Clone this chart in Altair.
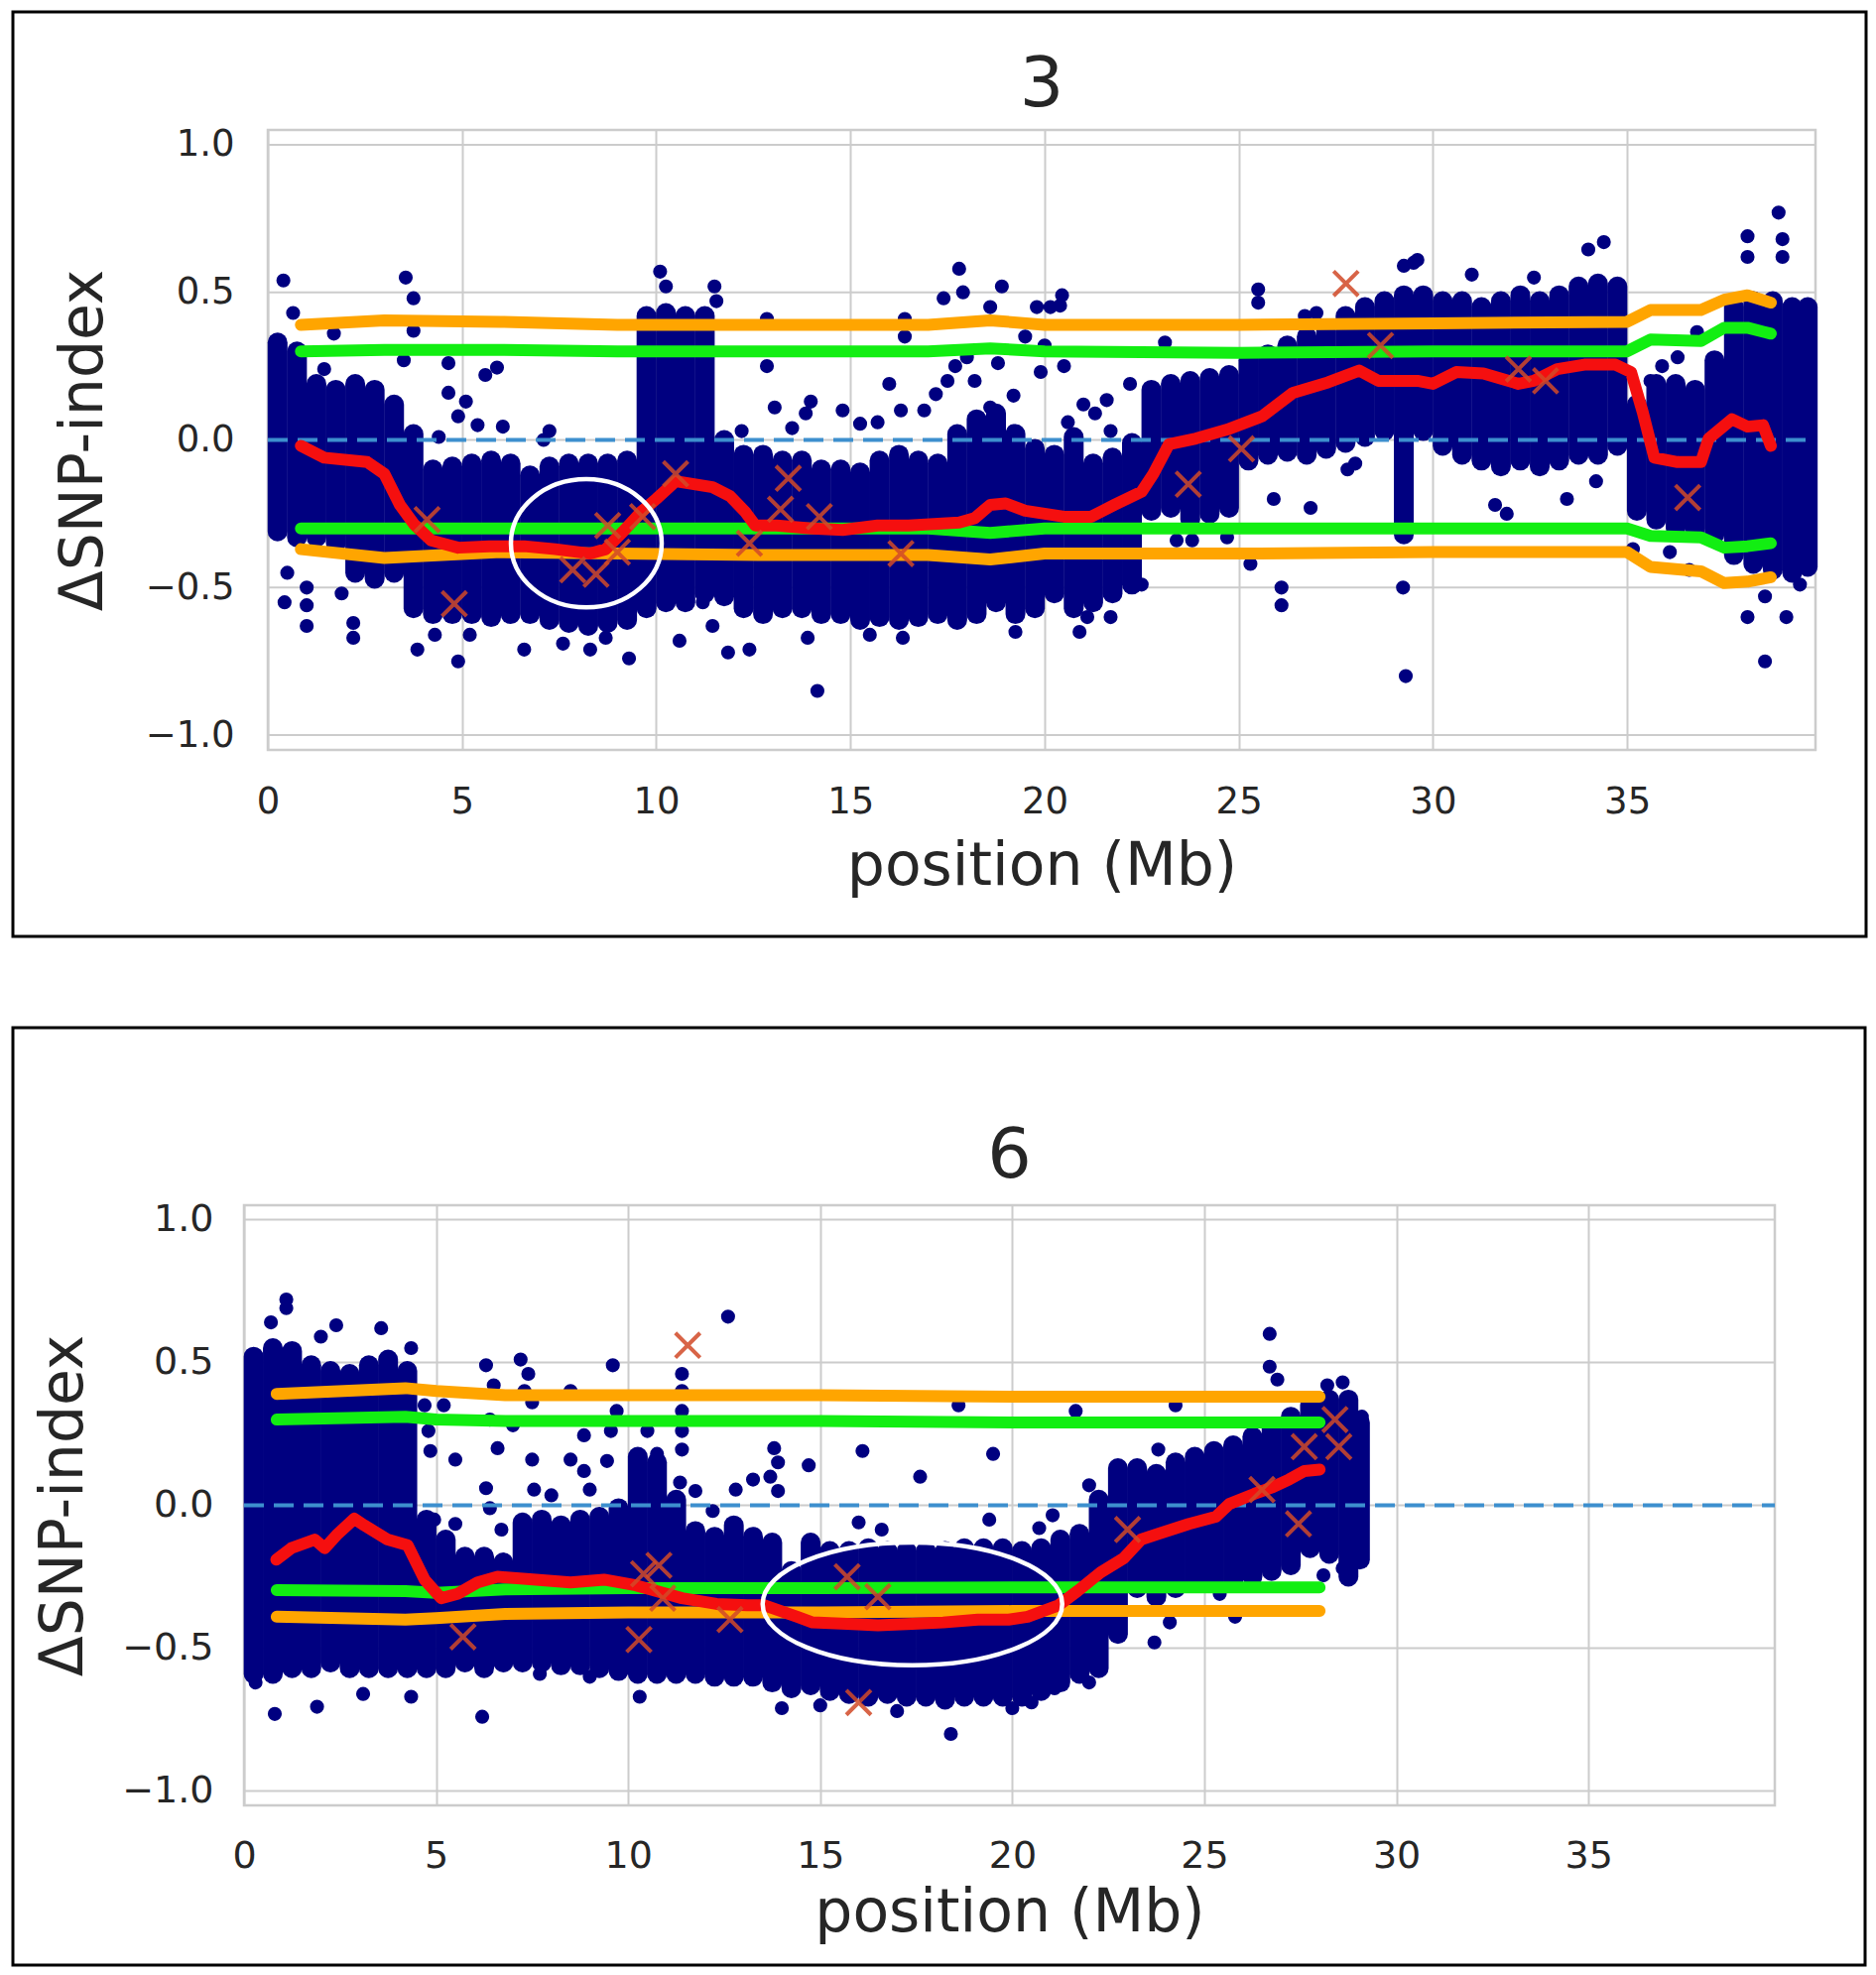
import altair as alt
import pandas as pd

# ---------------- shared axis ticks ----------------
x_ticks = [0, 5, 10, 15, 20, 25, 30, 35]
y_ticks = [-1.0, -0.5, 0.0, 0.5, 1.0]

# ---------------- panel "3" ----------------
p1_title = "3"
# dense SNP cloud (column centre, lower edge, upper edge)
p1_core_x = [0.25, 0.75, 1.25, 1.75, 2.25, 2.75, 3.25, 3.75, 4.25, 4.75, 5.25, 5.75, 6.25, 6.75, 7.25, 7.75,
             8.25, 8.75, 9.25, 9.75, 10.25, 10.75, 11.25, 11.75, 12.25, 12.75, 13.25, 13.75, 14.25, 14.75,
             15.25, 15.75, 16.25, 16.75, 17.25, 17.75, 18.25, 18.75, 19.25, 19.75, 20.25, 20.75, 21.25,
             21.75, 22.25, 22.75, 23.25, 23.75, 24.25, 24.75, 25.25, 25.75, 26.25, 26.75, 27.25, 27.75,
             28.25, 28.75, 29.25, 29.75, 30.25, 30.75, 31.25, 31.75, 32.25, 32.75, 33.25, 33.75, 34.25,
             34.75, 35.25, 35.75, 36.25, 36.75, 37.25, 37.75, 38.25, 38.75, 39.25, 39.65]
p1_core_lo = [-0.31, -0.33, -0.33, -0.35, -0.45, -0.47, -0.45, -0.57, -0.59, -0.59, -0.59, -0.60, -0.59, -0.59,
              -0.61, -0.62, -0.63, -0.62, -0.61, -0.57, -0.55, -0.55, -0.52, -0.53, -0.57, -0.59, -0.57, -0.57,
              -0.59, -0.59, -0.61, -0.60, -0.61, -0.60, -0.59, -0.61, -0.59, -0.55, -0.59, -0.57, -0.52, -0.57,
              -0.55, -0.52, -0.49, -0.24, -0.23, -0.27, -0.25, -0.23, -0.07, -0.05, -0.04, -0.05, -0.03, -0.01,
              0.01, 0.03, -0.32, 0.03, -0.02, -0.05, -0.07, -0.09, -0.07, -0.09, -0.07, -0.05, -0.05, -0.02,
              -0.24, -0.27, -0.30, -0.30, -0.32, -0.39, -0.42, -0.44, -0.45, -0.43]
p1_core_hi = [0.33, 0.30, 0.19, 0.17, 0.19, 0.17, 0.12, 0.02, -0.10, -0.09, -0.08, -0.07, -0.08, -0.12, -0.09,
              -0.08, -0.08, -0.08, -0.07, 0.42, 0.43, 0.42, 0.42, 0.00, -0.05, -0.05, -0.07, -0.07, -0.10, -0.10,
              -0.11, -0.07, -0.05, -0.07, -0.08, 0.02, 0.07, 0.09, 0.02, -0.03, -0.05, 0.01, -0.08, -0.06, -0.01,
              0.17, 0.19, 0.20, 0.21, 0.22, 0.27, 0.29, 0.32, 0.35, 0.37, 0.42, 0.45, 0.47, 0.49, 0.49, 0.47,
              0.47, 0.45, 0.47, 0.49, 0.47, 0.49, 0.52, 0.53, 0.52, 0.12, 0.19, 0.19, 0.17, 0.27, 0.45, 0.47,
              0.47, 0.45, 0.45]
# scattered SNPs outside the dense cloud
p1_pts_x = [0.4, 0.65, 1.7, 1.45, 3.55, 3.75, 3.75, 3.5, 4.65, 4.65, 5.1, 4.9, 5.4, 6.05, 5.6, 5.9, 7.25, 7.1, 4.4,
            0.5, 1.0, 0.43, 1.0, 1.0, 1.9, 2.2, 2.2, 3.85, 4.9, 6.6, 7.6, 8.3, 9.3, 8.7, 5.2, 4.3,
            10.1, 10.25, 11.5, 11.55, 12.85, 12.85, 13.05, 13.98, 13.85, 14.8, 15.25, 15.7, 16.3, 16.0, 16.4,
            16.4, 16.9, 17.2, 17.8, 17.4, 17.9, 18.9, 18.6, 19.8, 19.2, 18.6, 19.2, 19.9, 17.7, 17.5, 18.2,
            18.0, 18.8, 19.5, 12.2, 13.5,
            11.2, 11.45, 11.85, 12.4, 10.6, 14.15, 13.9, 16.35, 19.25, 15.5,
            20.15, 20.4, 20.45, 20.0, 20.5, 21.0, 21.3, 21.6, 20.6, 21.7, 23.1, 22.2, 25.5, 25.5, 25.3, 26.1,
            26.1, 26.85, 25.9, 29.23, 29.3, 29.5, 29.25, 21.1, 21.7, 22.5, 23.4, 23.8, 24.7, 27.8, 28.0, 20.9,
            26.7, 27.0,
            34.4, 34.0, 32.6, 31.0, 31.6, 31.9, 33.45, 34.2, 35.15, 36.1, 36.6, 36.8, 38.9, 38.1, 39.0, 38.1,
            39.0, 38.2, 38.55, 38.1, 39.1, 38.55, 39.45, 29.6, 35.9, 37.3, 36.3, 35.6]
p1_pts_y = [0.54, 0.43, 0.36, 0.24, 0.55, 0.48, 0.37, 0.27, 0.26, 0.16, 0.13, 0.08, 0.05, 0.045, 0.22, 0.245,
            0.03, 0.0, 0.01,
            -0.45, -0.50, -0.55, -0.56, -0.63, -0.52, -0.62, -0.67, -0.71, -0.75, -0.71, -0.69, -0.71, -0.74,
            -0.67, -0.66, -0.66,
            0.57, 0.52, 0.52, 0.47, 0.41, 0.25, 0.11, 0.13, 0.09, 0.10, 0.055, 0.06, 0.10, 0.19, 0.35, 0.41,
            0.10, 0.155, 0.58, 0.48, 0.50, 0.52, 0.45, 0.45, 0.15, 0.11, 0.03, 0.23, 0.25, 0.20, 0.20, 0.28,
            0.26, 0.35, 0.03, 0.04,
            -0.55, -0.63, -0.72, -0.71, -0.68, -0.85, -0.67, -0.67, -0.65, -0.66,
            0.45, 0.455, 0.49, 0.32, 0.25, 0.12, 0.09, 0.135, 0.06, 0.03, 0.33, 0.19, 0.51, 0.465, -0.42, -0.50,
            -0.56, -0.23, -0.20, -0.50, -0.80, 0.60, 0.59, -0.60, -0.60, -0.49, -0.34, -0.34, -0.33, -0.10,
            -0.08, -0.65, 0.42, 0.43,
            0.67, 0.645, 0.55, 0.56, -0.22, -0.25, -0.20, -0.14, -0.37, -0.38, -0.44, 0.365, 0.77, 0.69, 0.68,
            0.62, 0.62, -0.42, -0.53, -0.60, -0.60, -0.75, -0.49, 0.61, 0.25, 0.20, 0.28, 0.20]
# confidence thresholds
p1_thr_x = [0.85, 3.0, 6.0, 9.0, 13.0, 17.0, 18.6, 20.0, 25.0, 30.0, 35.0, 35.6, 36.9, 37.5, 38.1, 38.7]
p1_orange_hi = [0.39, 0.405, 0.40, 0.39, 0.39, 0.39, 0.405, 0.39, 0.39, 0.395, 0.40, 0.44, 0.44, 0.475, 0.49, 0.465]
p1_green_hi = [0.30, 0.305, 0.305, 0.30, 0.30, 0.30, 0.31, 0.30, 0.295, 0.30, 0.30, 0.34, 0.335, 0.38, 0.38, 0.36]
p1_green_lo = [-0.30, -0.30, -0.30, -0.30, -0.30, -0.30, -0.315, -0.30, -0.30, -0.30, -0.30, -0.325, -0.33,
               -0.365, -0.36, -0.35]
p1_orange_lo = [-0.37, -0.40, -0.38, -0.385, -0.39, -0.39, -0.405, -0.385, -0.385, -0.38, -0.38, -0.43, -0.445,
                -0.485, -0.48, -0.465]
# sliding-window ΔSNP-index
p1_red_x = [0.85, 1.45, 2.56, 3.0, 3.4, 3.76, 4.2, 4.9, 5.7, 6.6, 7.4, 8.3, 8.7, 9.15, 9.6, 10.0, 10.5, 11.45,
            11.9, 12.3, 12.55, 13.1, 14.0, 14.8, 15.7, 16.5, 17.8, 18.2, 18.6, 19.0, 19.5, 20.5, 21.2, 21.8,
            22.5, 22.8, 23.2, 23.9, 24.7, 25.6, 26.4, 27.3, 28.1, 28.6, 29.6, 30.0, 30.6, 31.3, 32.2, 32.6,
            33.2, 33.9, 34.7, 35.1, 35.4, 35.7, 36.3, 36.9, 37.1, 37.7, 38.1, 38.5, 38.7]
p1_red_y = [-0.02, -0.06, -0.075, -0.115, -0.22, -0.285, -0.34, -0.365, -0.36, -0.36, -0.37, -0.385, -0.37,
            -0.31, -0.245, -0.20, -0.14, -0.16, -0.19, -0.245, -0.29, -0.29, -0.30, -0.305, -0.29, -0.29, -0.28,
            -0.265, -0.22, -0.215, -0.24, -0.26, -0.26, -0.22, -0.175, -0.115, -0.015, 0.005, 0.035, 0.08,
            0.16, 0.195, 0.235, 0.20, 0.20, 0.19, 0.23, 0.225, 0.19, 0.20, 0.24, 0.255, 0.255, 0.23, 0.095,
            -0.06, -0.075, -0.075, 0.005, 0.07, 0.045, 0.05, -0.02]
# highlighted SNPs (x markers)
p1_cross_x = [4.1, 4.8, 7.85, 8.45, 8.75, 9.0, 9.65, 10.5, 13.4, 13.2, 14.2, 12.4, 16.3, 23.7, 25.07, 27.76,
              28.65, 32.2, 32.9, 36.56]
p1_cross_y = [-0.27, -0.555, -0.44, -0.455, -0.29, -0.38, -0.26, -0.115, -0.13, -0.235, -0.26, -0.35, -0.385,
              -0.15, -0.03, 0.53, 0.32, 0.24, 0.20, -0.195]
# circled region (centre x, centre y)
p1_circle_x = [8.2]
p1_circle_y = [-0.35]

# ---------------- panel "6" ----------------
p2_title = "6"
p2_core_x = [0.25, 0.75, 1.25, 1.75, 2.25, 2.75, 3.25, 3.75, 4.25, 4.75, 5.25, 5.75, 6.25, 6.75, 7.25, 7.75,
             8.25, 8.75, 9.25, 9.75, 10.25, 10.75, 11.25, 11.75, 12.25, 12.75, 13.25, 13.75, 14.25, 14.75,
             15.25, 15.75, 16.25, 16.75, 17.25, 17.75, 18.25, 18.75, 19.25, 19.75, 20.25, 20.75, 21.25,
             21.75, 22.25, 22.75, 23.25, 23.75, 24.25, 24.75, 25.25, 25.75, 26.25, 26.75, 27.25, 27.75,
             28.25, 28.75, 29.05]
p2_core_lo = [-0.59, -0.59, -0.57, -0.57, -0.55, -0.57, -0.57, -0.57, -0.57, -0.57, -0.57, -0.55, -0.57, -0.55,
              -0.55, -0.55, -0.56, -0.56, -0.57, -0.58, -0.59, -0.59, -0.59, -0.59, -0.60, -0.60, -0.60, -0.62,
              -0.64, -0.63, -0.65, -0.66, -0.67, -0.66, -0.67, -0.67, -0.68, -0.67, -0.67, -0.67, -0.67, -0.65,
              -0.62, -0.59, -0.57, -0.45, -0.29, -0.32, -0.29, -0.27, -0.26, -0.27, -0.25, -0.23, -0.21, -0.15,
              -0.17, -0.25, -0.19]
p2_core_hi = [0.52, 0.55, 0.54, 0.49, 0.47, 0.46, 0.49, 0.51, 0.47, -0.05, -0.12, -0.18, -0.18, -0.20, -0.06,
              -0.05, -0.07, -0.05, -0.04, -0.01, 0.17, 0.15, 0.02, -0.09, -0.11, -0.07, -0.11, -0.13, -0.23,
              -0.13, -0.16, -0.16, -0.15, -0.16, -0.16, -0.16, -0.16, -0.15, -0.15, -0.15, -0.16, -0.15, -0.12,
              -0.10, 0.02, 0.13, 0.13, 0.11, 0.15, 0.17, 0.19, 0.21, 0.24, 0.27, 0.31, 0.35, 0.37, 0.37, 0.29]
p2_pts_x = [1.1, 1.1, 2.4, 2.0, 3.57, 4.35, 0.7, 4.7, 5.2, 4.8, 4.85, 5.5, 6.3, 6.3, 6.5, 7.2, 7.4, 7.5, 7.0, 7.5,
            7.55, 8.0, 8.5, 8.85, 8.5, 8.85, 9.0, 9.6, 9.7, 9.55, 9.45, 4.95, 5.5, 6.7, 6.4, 6.4, 6.6, 7.3,
            0.8, 1.9, 3.1, 4.35, 6.2, 9.0, 7.7, 0.3,
            11.4, 11.4, 11.4, 11.4, 11.4, 10.5, 10.75, 11.35, 12.2, 12.6, 16.1, 17.6, 19.5, 18.6, 16.0, 19.4,
            16.6, 14.7, 13.8, 13.25, 13.7, 12.8, 11.75, 13.9, 13.9, 18.4, 14.0, 10.3, 17.0, 15.0,
            21.65, 24.25, 22.0, 21.05, 20.7, 23.8, 26.7, 26.7, 26.9, 23.7, 24.1, 25.4, 25.8, 28.1, 28.6, 21.1,
            22.0, 20.5, 20.0, 29.05, 29.1, 28.6, 28.2]
p2_pts_y = [0.72, 0.69, 0.63, 0.59, 0.62, 0.55, 0.64, 0.35, 0.35, 0.26, 0.19, 0.16, 0.06, 0.49, 0.42, 0.51, 0.46,
            0.36, 0.28, 0.16, 0.055, 0.035, 0.40, 0.245, 0.16, 0.12, 0.055, 0.49, 0.33, 0.26, 0.155, -0.05,
            -0.065, -0.085, -0.01, 0.30, 0.20, 0.40,
            -0.73, -0.705, -0.66, -0.67, -0.74, -0.60, -0.59, -0.62,
            0.46, 0.40, 0.33, 0.26, 0.195, 0.26, 0.18, 0.08, -0.02, 0.66, 0.19, 0.10, 0.18, 0.35, -0.06, -0.05,
            -0.085, 0.14, 0.20, 0.09, 0.10, 0.055, 0.05, 0.15, 0.05, -0.80, -0.71, -0.67, -0.72, -0.70,
            0.33, 0.35, 0.07, -0.035, -0.08, 0.195, 0.60, 0.485, 0.44, -0.48, -0.41, -0.31, -0.39, -0.245,
            -0.22, -0.64, -0.62, -0.69, -0.71, 0.12, 0.31, 0.43, 0.42]
p2_thr_x = [0.85, 4.2, 5.0, 6.8, 10.0, 15.0, 20.0, 25.0, 28.0]
p2_orange_hi = [0.39, 0.41, 0.40, 0.385, 0.385, 0.385, 0.38, 0.38, 0.38]
p2_green_hi = [0.30, 0.31, 0.30, 0.295, 0.295, 0.295, 0.29, 0.29, 0.29]
p2_green_lo = [-0.297, -0.30, -0.306, -0.294, -0.29, -0.29, -0.287, -0.287, -0.287]
p2_orange_lo = [-0.39, -0.40, -0.395, -0.38, -0.375, -0.375, -0.37, -0.37, -0.37]
p2_red_x = [0.84, 1.23, 1.84, 2.1, 2.44, 2.87, 3.13, 3.74, 4.26, 4.7, 5.13, 5.56, 6.08, 6.6, 7.6, 8.5, 9.37,
            10.2, 10.6, 11.4, 12.3, 13.1, 13.55, 14.4, 14.8, 15.7, 16.5, 17.4, 18.2, 19.1, 19.9, 20.4, 21.2,
            21.7, 22.3, 22.9, 23.35, 23.8, 24.6, 25.3, 25.65, 26.3, 26.8, 27.2, 27.6, 28.0]
p2_red_y = [-0.19, -0.15, -0.12, -0.15, -0.10, -0.047, -0.07, -0.12, -0.14, -0.26, -0.325, -0.31, -0.27, -0.25,
            -0.26, -0.27, -0.26, -0.28, -0.295, -0.325, -0.345, -0.35, -0.35, -0.39, -0.41, -0.415, -0.42, -0.415,
            -0.41, -0.40, -0.40, -0.39, -0.35, -0.30, -0.235, -0.185, -0.12, -0.10, -0.065, -0.04, 0.005, 0.04,
            0.065, 0.09, 0.12, 0.125]
p2_cross_x = [5.7, 10.28, 10.4, 10.8, 10.9, 11.55, 12.65, 15.7, 16.5, 16.0, 23.0, 26.5, 27.45, 27.6, 28.4, 28.5]
p2_cross_y = [-0.46, -0.47, -0.24, -0.21, -0.325, 0.56, -0.40, -0.25, -0.32, -0.69, -0.085, 0.055, -0.065,
              0.205, 0.30, 0.205]
p2_circle_x = [17.4]
p2_circle_y = [-0.345]

# ---------------- styling ----------------
FONT = "DejaVu Sans"
TXT = "#262626"
NAVY = "#000080"
GRID = "#cccccc"
X_DOMAIN = [0, 39.85]
Y_DOMAIN = [-1.05, 1.05]


def panel(t, core, pts, thr, red, cross, circ, g):
    s, w, h = g["shift"], g["w"], g["h"]          # plot area spans [s, s + w] inside the cell
    xs = alt.Scale(domain=X_DOMAIN, nice=False, zero=False, range=[s, s + w])
    ys = alt.Scale(domain=Y_DOMAIN, nice=False, zero=False)
    xax = alt.Axis(values=x_ticks, format="d", title="position (Mb)", grid=True, gridColor=GRID,
                   gridWidth=2, ticks=False, domain=False, labelFont=FONT, labelFontSize=g["lfs"],
                   labelColor=TXT, labelPadding=g["xlp"], labelFlush=False, labelOverlap=False,
                   titleFont=FONT, titleFontSize=g["tfs"], titleFontWeight="normal", titleColor=TXT,
                   titlePadding=g["xtp"], titleX=s + w / 2)
    yax = alt.Axis(values=y_ticks, format=".1f", title="ΔSNP-index", grid=False,
                   ticks=False, domain=False, labelFont=FONT, labelFontSize=g["lfs"], offset=-s,
                   labelColor=TXT, labelPadding=g["ylp"], labelFlush=False, labelOverlap=False,
                   titleFont=FONT, titleFontSize=g["tfs"], titleFontWeight="normal", titleColor=TXT,
                   titlePadding=g["ytp"])
    X = alt.X("x:Q", scale=xs, axis=xax)
    Y = alt.Y("y:Q", scale=ys, axis=yax)

    grid_df = pd.DataFrame({"y": y_ticks})
    l_grid = alt.Chart(grid_df).mark_rule(color=GRID, strokeWidth=2).encode(
        y=Y, x=alt.value(s), x2=alt.value(s + w))
    one = pd.DataFrame({"t": [t]})
    l_frame = alt.Chart(one).mark_rect(stroke=GRID, strokeWidth=2.5, fillOpacity=0).encode(
        x=alt.value(s), x2=alt.value(s + w), y=alt.value(0), y2=alt.value(h))

    core_df = pd.DataFrame({"x": core[0], "y": core[1], "y2": core[2]})
    l_core = alt.Chart(core_df).mark_rule(color=NAVY, strokeWidth=g["colw"], strokeCap="round").encode(
        x=X, y=Y, y2="y2:Q")
    pts_df = pd.DataFrame({"x": pts[0], "y": pts[1]})
    l_pts = alt.Chart(pts_df).mark_circle(color=NAVY, size=200, opacity=1).encode(x=X, y=Y)
    zero_df = pd.DataFrame({"y": [0.0]})
    l_zero = alt.Chart(zero_df).mark_rule(color="#3d8fce", strokeDash=[20, 10], strokeWidth=4).encode(
        y=Y, x=alt.value(s), x2=alt.value(s + w))

    rows = []
    for name, vals, col in [("ohi", thr[1], "#ffa500"), ("olo", thr[4], "#ffa500"),
                            ("ghi", thr[2], "#12ee12"), ("glo", thr[3], "#12ee12")]:
        for xv, yv in zip(thr[0], vals):
            rows.append({"x": xv, "y": yv, "s": name, "c": col})
    thr_df = pd.DataFrame(rows)
    l_thr = alt.Chart(thr_df).mark_line(strokeWidth=12, strokeCap="round", strokeJoin="round").encode(
        x=X, y=Y, detail="s:N", color=alt.Color("c:N", scale=None))
    red_df = pd.DataFrame({"x": red[0], "y": red[1]})
    l_red = alt.Chart(red_df).mark_line(color="#f50f0f", strokeWidth=12, strokeCap="round",
                                        strokeJoin="round").encode(x=X, y=Y)
    cr_df = pd.DataFrame({"x": cross[0], "y": cross[1]})
    l_cross = alt.Chart(cr_df).mark_point(shape="M-1,-1L1,1M-1,1L1,-1", filled=False, size=620,
                                          strokeWidth=4, color="#d24a28", opacity=0.85).encode(x=X, y=Y)
    a = g["ell_aspect"]
    ell_path = "M-1,0A1,%s,0,1,0,1,0A1,%s,0,1,0,-1,0Z" % (a, a)
    ell_df = pd.DataFrame({"x": circ[0], "y": circ[1]})
    l_ell = alt.Chart(ell_df).mark_point(shape=ell_path, filled=False, size=g["ell_size"], strokeWidth=4.5,
                                         color="white", opacity=1).encode(x=X, y=Y)
    l_title = alt.Chart(one).mark_text(font=FONT, fontSize=g["title_fs"], color=TXT, align="center",
                                       baseline="alphabetic").encode(
        x=alt.value(s + w / 2), y=alt.value(g["title_y"]), text="t:N")
    l_box = alt.Chart(one).mark_rect(stroke="black", strokeWidth=3, fillOpacity=0).encode(
        x=alt.value(g["box"][0]), x2=alt.value(g["box"][1]), y=alt.value(g["box"][2]),
        y2=alt.value(g["box"][3]))
    return alt.layer(l_grid, l_frame, l_core, l_pts, l_zero, l_thr, l_red, l_cross, l_ell, l_title,
                     l_box).properties(width=w - s, height=h)


# panel "6" sits 24 px further left than panel "3" inside the same column, hence its shift
g1 = dict(shift=0, w=1560, h=625, lfs=37, tfs=60, xlp=34, xtp=18, ylp=34, ytp=31, colw=20,
          ell_aspect=0.85, ell_size=152 * 152, title_fs=70, title_y=-24,
          box=[-257, 1611, -119, 813])
g2 = dict(shift=-24, w=1543, h=605, lfs=38, tfs=60, xlp=32, xtp=9, ylp=31, ytp=27, colw=20,
          ell_aspect=0.41, ell_size=302 * 302, title_fs=70, title_y=-28,
          box=[-257, 1610, -179, 766])

c1 = panel(p1_title, (p1_core_x, p1_core_lo, p1_core_hi), (p1_pts_x, p1_pts_y),
           (p1_thr_x, p1_orange_hi, p1_green_hi, p1_green_lo, p1_orange_lo), (p1_red_x, p1_red_y),
           (p1_cross_x, p1_cross_y), (p1_circle_x, p1_circle_y), g1)
c2 = panel(p2_title, (p2_core_x, p2_core_lo, p2_core_hi), (p2_pts_x, p2_pts_y),
           (p2_thr_x, p2_orange_hi, p2_green_hi, p2_green_lo, p2_orange_lo), (p2_red_x, p2_red_y),
           (p2_cross_x, p2_cross_y), (p2_circle_x, p2_circle_y), g2)

chart = alt.vconcat(c1, c2, spacing=88).properties(
    padding={"left": 3, "top": 2, "right": 0, "bottom": 0}
).configure(background="white").configure_view(stroke=None)

chart.save("out.html", embed_options={"renderer": "svg", "actions": False})
